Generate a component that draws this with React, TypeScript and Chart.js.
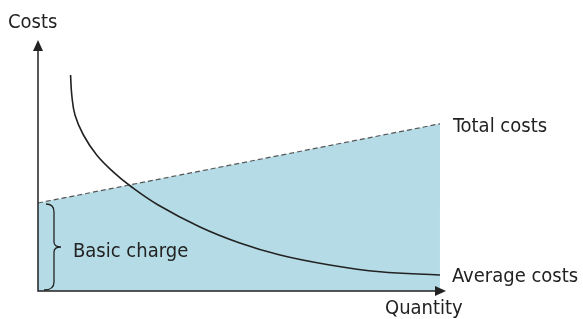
import React, { useEffect, useRef } from "react";
import { Chart, registerables } from "chart.js";

Chart.register(...registerables);

// Quantity range and cost data (data units)
const quantityMax = 10.15;
const costsMax = 6.275;
const basicCharge = 2.2;
const totalCostsX = [0, 10];
const totalCostsY = [2.2, 4.18];
const averageCostsX = [0.81, 0.84, 0.92, 1.13, 1.46, 1.87, 2.33, 2.99, 4.03, 5.02, 6.02, 7.26, 8.51, 10];
const averageCostsY = [5.4, 4.9, 4.4, 3.9, 3.4, 2.98, 2.6, 2.15, 1.6, 1.2, 0.9, 0.65, 0.48, 0.4];
const labels = {
  yAxis: "Costs",
  xAxis: "Quantity",
  total: "Total costs",
  average: "Average costs",
  basic: "Basic charge",
};

const FILL = "#b5dce6";
const INK = "#222222";
const FONT = '20px "DejaVu Sans Condensed", "DejaVu Sans", sans-serif';

const annotate = {
  id: "annotate",
  afterDatasetsDraw(chart: any) {
    const ctx = chart.ctx as CanvasRenderingContext2D;
    const xs = chart.scales.x;
    const ys = chart.scales.y;
    const x0 = xs.getPixelForValue(0);
    const y0 = ys.getPixelForValue(0);
    const xEnd = xs.getPixelForValue(quantityMax);
    const yTop = ys.getPixelForValue(costsMax);
    ctx.save();
    ctx.strokeStyle = INK;
    ctx.fillStyle = INK;
    ctx.lineWidth = 1.5;
    // axes
    ctx.beginPath();
    ctx.moveTo(x0, yTop + 8);
    ctx.lineTo(x0, y0);
    ctx.lineTo(xEnd - 8, y0);
    ctx.stroke();
    // arrows
    ctx.beginPath();
    ctx.moveTo(x0, yTop);
    ctx.lineTo(x0 - 5, yTop + 11);
    ctx.lineTo(x0 + 5, yTop + 11);
    ctx.closePath();
    ctx.fill();
    ctx.beginPath();
    ctx.moveTo(xEnd, y0);
    ctx.lineTo(xEnd - 11, y0 - 5);
    ctx.lineTo(xEnd - 11, y0 + 5);
    ctx.closePath();
    ctx.fill();
    // brace
    const bTop = ys.getPixelForValue(basicCharge);
    const bMid = (bTop + y0) / 2;
    const bx = x0 + 16;
    ctx.lineWidth = 1.3;
    ctx.beginPath();
    ctx.moveTo(x0 + 8, bTop + 1);
    ctx.quadraticCurveTo(bx, bTop + 1, bx, bTop + 9);
    ctx.lineTo(bx, bMid - 5);
    ctx.quadraticCurveTo(bx, bMid, bx + 7, bMid);
    ctx.quadraticCurveTo(bx, bMid, bx, bMid + 5);
    ctx.lineTo(bx, y0 - 9);
    ctx.quadraticCurveTo(bx, y0 - 1, x0 + 6, y0 - 1);
    ctx.stroke();
    // texts
    ctx.font = FONT;
    ctx.textBaseline = "alphabetic";
    ctx.textAlign = "left";
    ctx.fillText(labels.yAxis, x0 - 30, yTop - 12);
    ctx.fillText(labels.xAxis, xEnd - 61, y0 + 23);
    const xLast = xs.getPixelForValue(10);
    ctx.fillText(labels.total, xLast + 13, ys.getPixelForValue(totalCostsY[1]) + 8);
    ctx.fillText(labels.average, xLast + 12, ys.getPixelForValue(averageCostsY[averageCostsY.length - 1]) + 7);
    ctx.fillText(labels.basic, x0 + 35, bMid + 10);
    ctx.restore();
  },
};

export default function App() {
  const ref = useRef<HTMLCanvasElement>(null);
  useEffect(() => {
    if (!ref.current) return;
    const chart = new Chart(ref.current, {
      type: "scatter",
      data: {
        datasets: [
          {
            label: labels.total,
            data: totalCostsX.map((x, i) => ({ x, y: totalCostsY[i] })),
            showLine: true,
            fill: "origin",
            backgroundColor: FILL,
            borderColor: "#555555",
            borderDash: [5, 3],
            borderWidth: 1.2,
            pointRadius: 0,
            order: 2,
          },
          {
            label: labels.average,
            data: averageCostsX.map((x, i) => ({ x, y: averageCostsY[i] })),
            showLine: true,
            fill: false,
            borderColor: INK,
            borderWidth: 1.6,
            pointRadius: 0,
            tension: 0.4,
            order: 1,
          },
        ],
      },
      options: {
        animation: false,
        responsive: false,
        events: [],
        layout: { padding: { left: 38, right: 137, top: 40, bottom: 28 } },
        plugins: { legend: { display: false }, tooltip: { enabled: false } },
        scales: {
          x: { type: "linear", min: 0, max: quantityMax, display: false },
          y: { type: "linear", min: 0, max: costsMax, display: false },
        },
      },
      plugins: [annotate],
    });
    return () => chart.destroy();
  }, []);
  return (
    <div style={{ position: "fixed", left: 0, top: 0, width: 583, height: 319, background: "#fff" }}>
      <canvas ref={ref} width={583} height={319} style={{ display: "block" }} />
    </div>
  );
}
